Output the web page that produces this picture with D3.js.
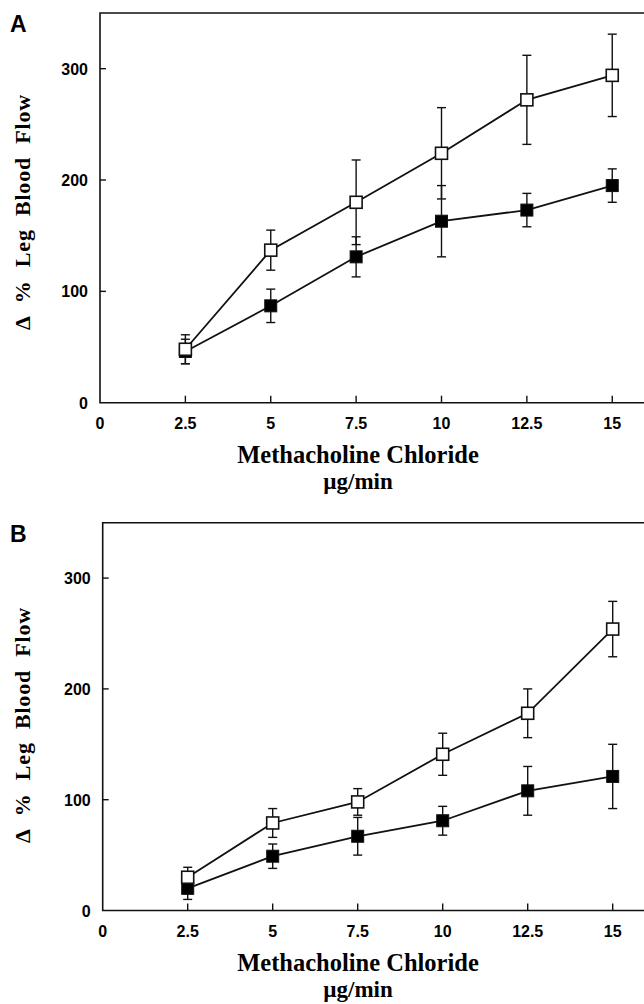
<!DOCTYPE html>
<html>
<head>
<meta charset="utf-8">
<script src="https://cdnjs.cloudflare.com/ajax/libs/d3/7.8.5/d3.min.js"></script>
<style>
  body { margin: 0; background: #fff; }
  svg { display: block; }
</style>
</head>
<body>
<svg id="chart" width="644" height="1004"></svg>
<script>
// doses (µg/min)
const doses = [2.5, 5, 7.5, 10, 12.5, 15];
const xTicks = [2.5, 5, 7.5, 10, 12.5, 15];
const xTickLabels = ['0', '2.5', '5', '7.5', '10', '12.5', '15'];
const yTicks = [0, 100, 200, 300];

// panel A
const aOpen = [48, 137, 180, 224, 272, 294];
const aOpenErr = [13, 18, 38, 41, 40, 37];
const aFilled = [46, 87, 131, 163, 173, 195];
const aFilledErr = [11, 15, 18, 32, 15, 15];

// panel B
const bOpen = [30, 79, 98, 141, 178, 254];
const bOpenErr = [9, 13, 12, 19, 22, 25];
const bFilled = [20, 49, 67, 81, 108, 121];
const bFilledErr = [10, 11, 17, 13, 22, 29];

const svg = d3.select('#chart');

function drawPanel(conf){
  const x = d3.scaleLinear().domain([0, 16]).range([conf.left, conf.left + 16 * conf.unit]);
  const y = d3.scaleLinear().domain([0, 350]).range([conf.bottom, conf.top]);
  const g = svg.append('g');

  // frame (right side runs off the page)
  g.append('path')
    .attr('d', `M${x(16) + 10},${y(350)}H${x(0)}V${y(0)}H${x(16) + 10}`)
    .attr('fill', 'none').attr('stroke', '#111').attr('stroke-width', 1.6);

  // x ticks (inward)
  g.selectAll('.xt').data(xTicks).join('line')
    .attr('x1', d => x(d)).attr('x2', d => x(d))
    .attr('y1', y(0)).attr('y2', y(0) - 7)
    .attr('stroke', '#111').attr('stroke-width', 1.4);

  g.selectAll('.xl').data([0].concat(xTicks)).join('text')
    .attr('x', d => x(d)).attr('y', y(0) + 26)
    .attr('text-anchor', 'middle')
    .attr('font-family', 'Liberation Sans, Arial, sans-serif')
    .attr('font-weight', 'bold').attr('font-size', 16)
    .text((d, i) => xTickLabels[i]);

  // y ticks (inward)
  g.selectAll('.yt').data(yTicks.slice(1)).join('line')
    .attr('x1', x(0)).attr('x2', x(0) + 6)
    .attr('y1', d => y(d)).attr('y2', d => y(d))
    .attr('stroke', '#111').attr('stroke-width', 1.4);

  g.selectAll('.yl').data(yTicks).join('text')
    .attr('x', x(0) - 12).attr('y', d => y(d) + 6)
    .attr('text-anchor', 'end')
    .attr('font-family', 'Liberation Sans, Arial, sans-serif')
    .attr('font-weight', 'bold').attr('font-size', 16)
    .text(d => d);

  // panel letter
  g.append('text')
    .attr('x', 10).attr('y', conf.top + 19)
    .attr('font-family', 'Liberation Sans, Arial, sans-serif')
    .attr('font-weight', 'bold').attr('font-size', 23)
    .text(conf.letter);

  // axis titles
  g.append('text')
    .attr('x', 358).attr('y', y(0) + 60)
    .attr('text-anchor', 'middle')
    .attr('font-family', 'Liberation Serif, Times New Roman, serif')
    .attr('font-weight', 'bold').attr('font-size', 24.5)
    .text('Methacholine Chloride');
  g.append('text')
    .attr('x', 358).attr('y', y(0) + 86)
    .attr('text-anchor', 'middle')
    .attr('font-family', 'Liberation Serif, Times New Roman, serif')
    .attr('font-weight', 'bold').attr('font-size', 23)
    .text('µg/min');

  g.append('text')
    .attr('transform', `translate(30,${conf.labelY}) rotate(-90)`)
    .attr('text-anchor', 'middle')
    .attr('font-family', 'Liberation Serif, Times New Roman, serif')
    .attr('font-weight', 'bold').attr('font-size', 22)
    .attr('letter-spacing', 0.8).attr('word-spacing', 7)
    .text('Δ % Leg Blood Flow');

  const line = d3.line().x(d => x(d[0])).y(d => y(d[1]));

  conf.series.forEach(function(s){
    const pts = doses.map((d, i) => [d, s.values[i], s.errs[i]]);

    g.append('path').datum(pts)
      .attr('d', line)
      .attr('fill', 'none').attr('stroke', '#111').attr('stroke-width', 1.8);

    const eb = g.append('g').attr('stroke', '#111').attr('stroke-width', 1.4);
    pts.forEach(function(p){
      const cx = x(p[0]);
      eb.append('line').attr('x1', cx).attr('x2', cx).attr('y1', y(p[1] + p[2])).attr('y2', y(p[1] - p[2]));
      eb.append('line').attr('x1', cx - 4.5).attr('x2', cx + 4.5).attr('y1', y(p[1] + p[2])).attr('y2', y(p[1] + p[2]));
      eb.append('line').attr('x1', cx - 4.5).attr('x2', cx + 4.5).attr('y1', y(p[1] - p[2])).attr('y2', y(p[1] - p[2]));
    });
  });

  conf.series.forEach(function(s){
    g.selectAll(null).data(doses.map((d, i) => [d, s.values[i]])).join('rect')
      .attr('x', d => x(d[0]) - 6).attr('y', d => y(d[1]) - 6)
      .attr('width', 12).attr('height', 12)
      .attr('fill', s.filled ? '#000' : '#fff')
      .attr('stroke', '#111').attr('stroke-width', s.filled ? 1 : 1.6);
  });
}

drawPanel({
  letter: 'A', left: 100, unit: 34.15, top: 13, bottom: 402.7, labelY: 212,
  series: [
    {values: aFilled, errs: aFilledErr, filled: true},
    {values: aOpen, errs: aOpenErr, filled: false}
  ]
});

drawPanel({
  letter: 'B', left: 102.7, unit: 34, top: 522.7, bottom: 910.5, labelY: 725,
  series: [
    {values: bFilled, errs: bFilledErr, filled: true},
    {values: bOpen, errs: bOpenErr, filled: false}
  ]
});
</script>
</body>
</html>
